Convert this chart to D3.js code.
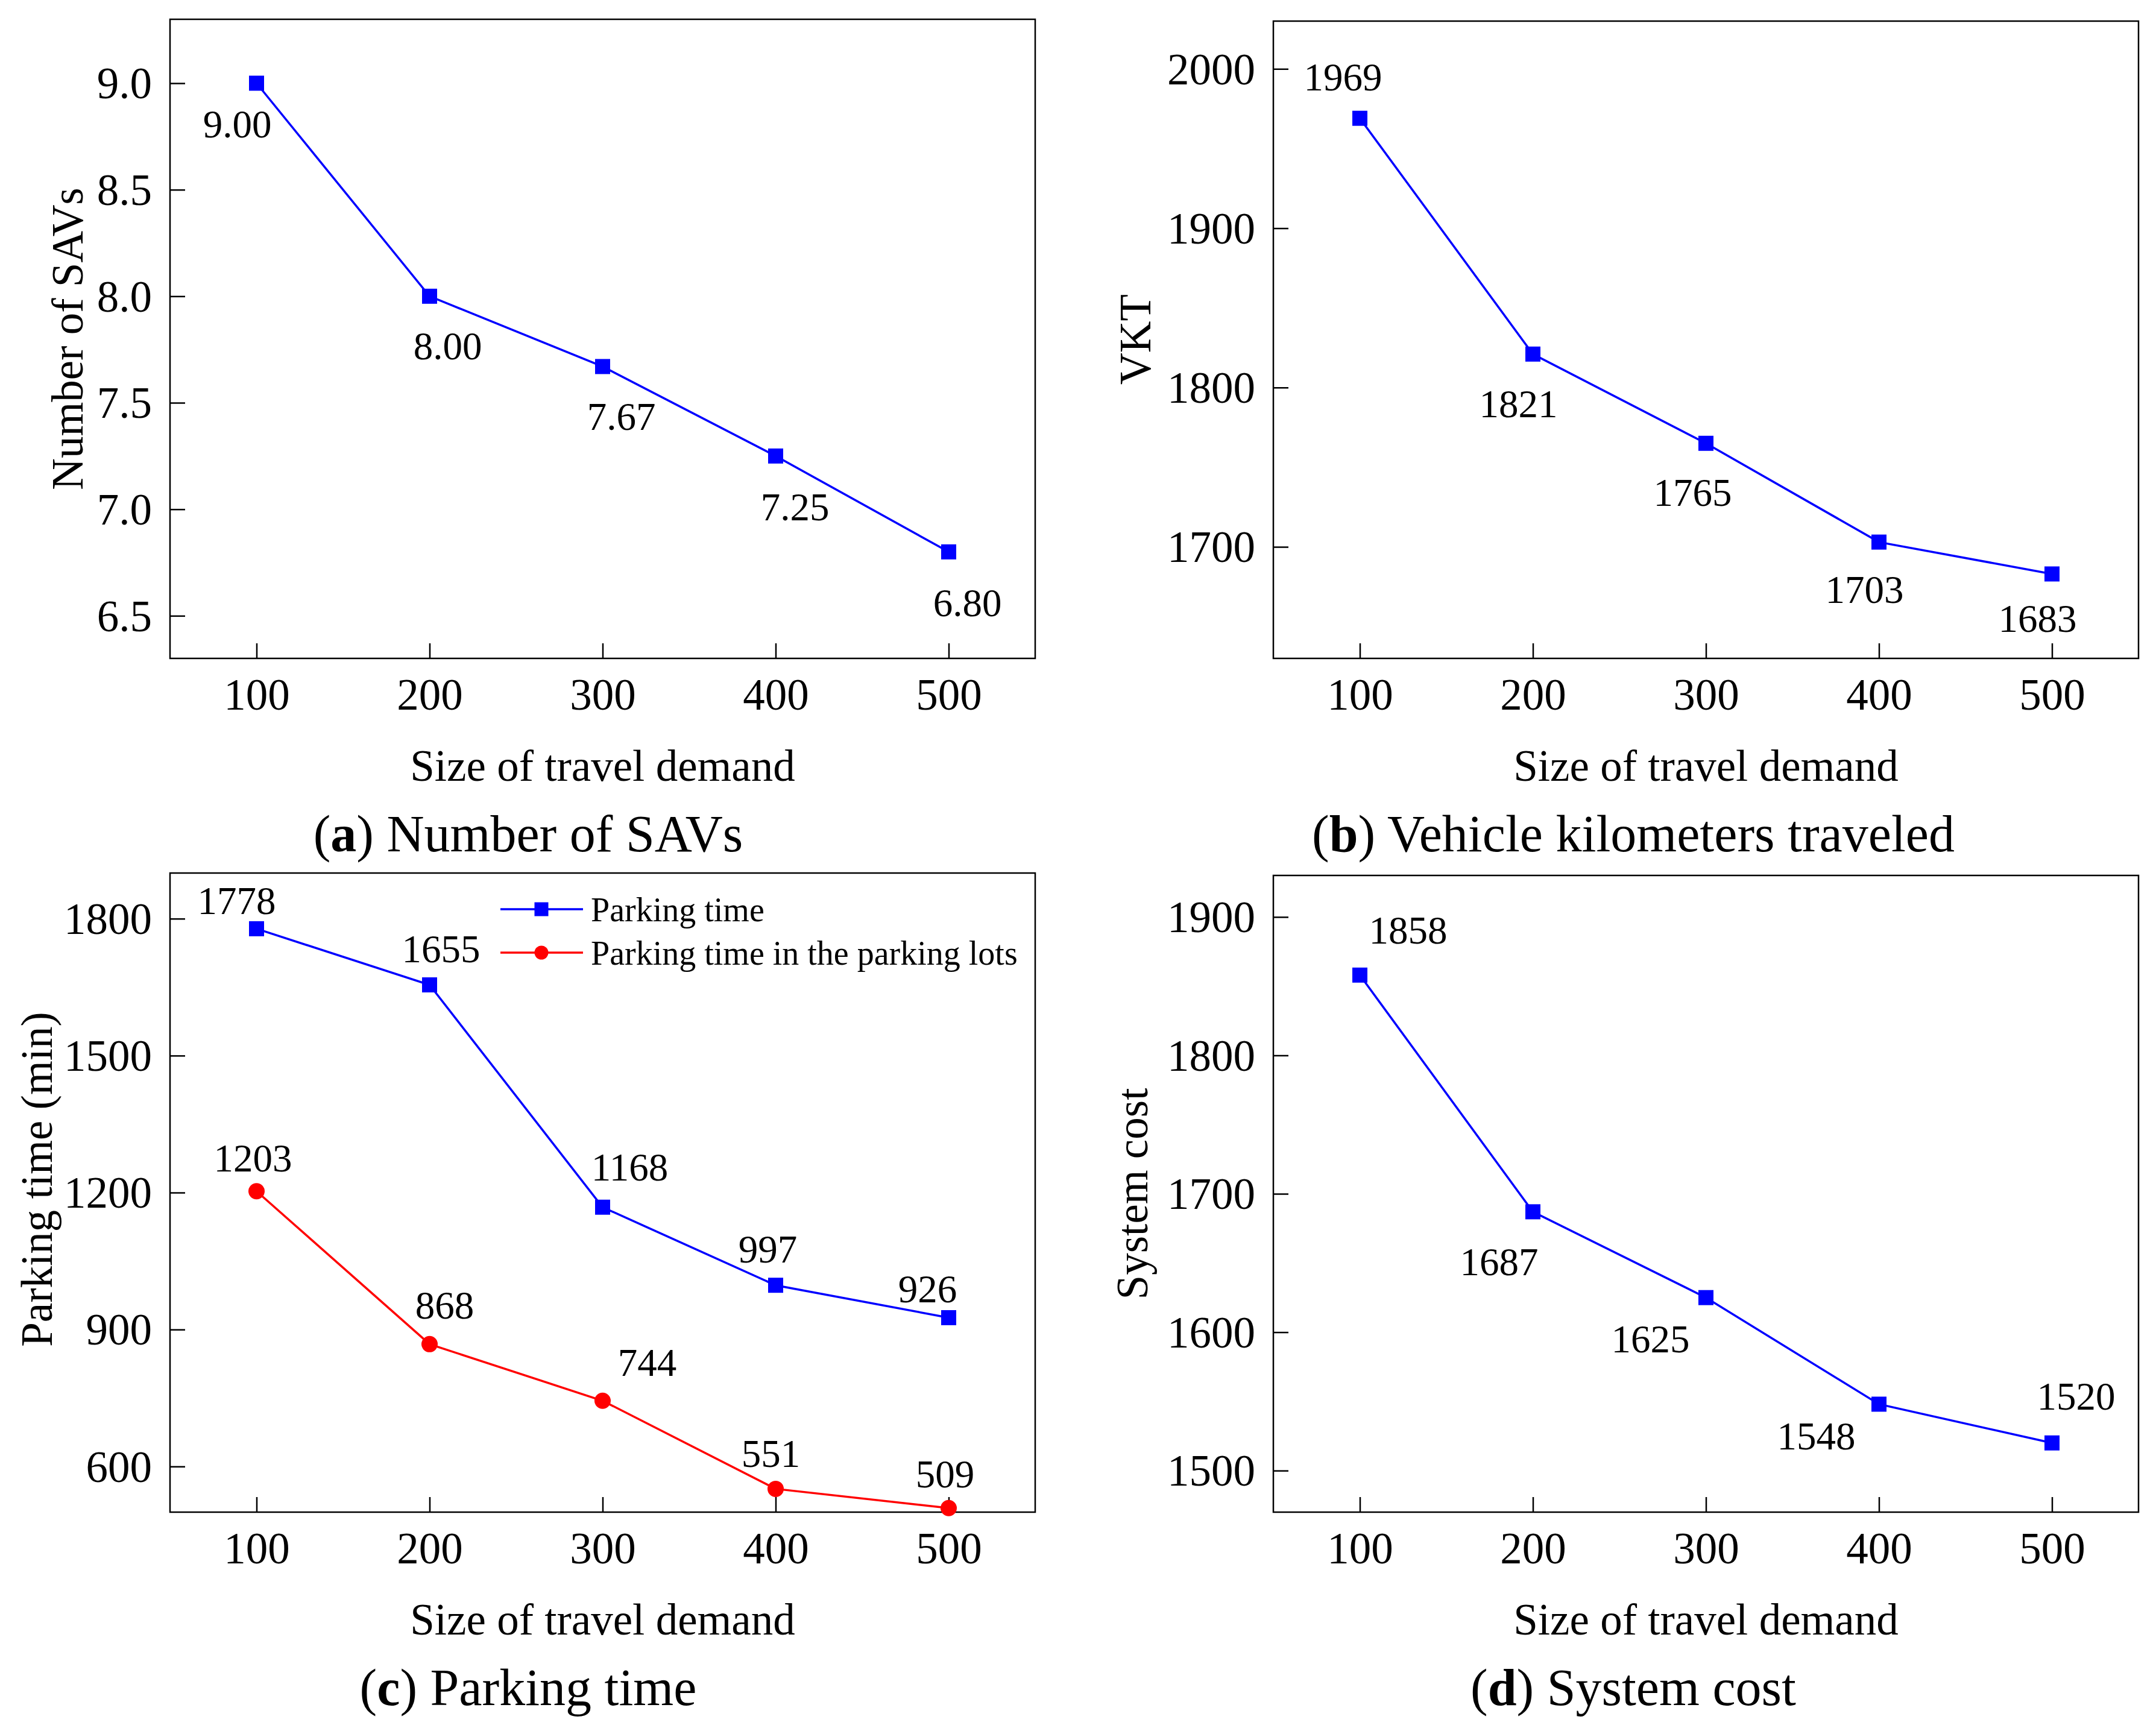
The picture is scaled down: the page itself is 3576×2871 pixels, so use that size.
<!DOCTYPE html>
<html>
<head>
<meta charset="utf-8">
<script src="https://cdn.jsdelivr.net/npm/d3@7"></script>
<style>
  body { margin: 0; background: #fff; }
  text { font-family: "Liberation Serif", "Times New Roman", serif; fill: #000; }
</style>
</head>
<body>
<div id="chart"></div>
<script>
// data
const demandSizes = [100, 200, 300, 400, 500];
const savCounts = [9.00, 8.00, 7.67, 7.25, 6.80];
const vktValues = [1969, 1821, 1765, 1703, 1683];
const parkingTime = [1778, 1655, 1168, 997, 926];
const parkingLotTime = [1203, 868, 744, 551, 509];
const systemCost = [1858, 1687, 1625, 1548, 1520];

const savTicks = [6.5, 7.0, 7.5, 8.0, 8.5, 9.0];
const vktTicks = [1700, 1800, 1900, 2000];
const parkingTicks = [600, 900, 1200, 1500, 1800];
const costTicks = [1500, 1600, 1700, 1800, 1900];

const xTitle = "Size of travel demand";
const yTitles = ["Number of SAVs", "VKT", "Parking time (min)", "System cost"];
const captionLetters = ["a", "b", "c", "d"];
const captionTexts = ["Number of SAVs", "Vehicle kilometers traveled", "Parking time", "System cost"];
const legendNames = ["Parking time", "Parking time in the parking lots"];

// label placement (dx to text centre, dy to baseline) per point
const offsetsA = [[-32, 90], [30, 105], [31, 105], [32, 107], [31, 107]];
const offsetsB = [[-28, -46], [-24, 105], [-22, 104], [-24, 101], [-24, 96]];
const offsetsC1 = [[-33, -24], [19, -38], [45, -44], [-13, -38], [-35, -25]];
const offsetsC2 = [[-6, -33], [25, -42], [74, -41], [-8, -36], [-6, -34]];
const offsetsD = [[80, -52], [-56, 105], [-92, 91], [-104, 75], [40, -55]];

const W = 3576, H = 2871;
const BLUE = "#0000ff", RED = "#ff0000";

const svg = d3.select("#chart").append("svg")
    .attr("width", W)
    .attr("height", H);

const panels = [
    {left: 282, right: 1717, top: 32, bottom: 1092, yDomain: [6.3, 9.3], ticks: savTicks,
        tickFmt: d3.format(".1f"), labelFmt: d3.format(".2f"), yTitleX: 137, yTitleY: 562, capX: 876,
        series: [{values: savCounts, color: BLUE, shape: "square", offsets: offsetsA}]},
    {left: 2112, right: 3547, top: 35, bottom: 1092, yDomain: [1630, 2030], ticks: vktTicks,
        tickFmt: d3.format("d"), labelFmt: d3.format("d"), yTitleX: 1908, yTitleY: 563, capX: 2709,
        series: [{values: vktValues, color: BLUE, shape: "square", offsets: offsetsB}]},
    {left: 282, right: 1717, top: 1448, bottom: 2508, yDomain: [500, 1900], ticks: parkingTicks,
        tickFmt: d3.format("d"), labelFmt: d3.format("d"), yTitleX: 86, yTitleY: 1956, capX: 876,
        series: [{values: parkingTime, color: BLUE, shape: "square", offsets: offsetsC1},
                 {values: parkingLotTime, color: RED, shape: "circle", offsets: offsetsC2}],
        legend: true},
    {left: 2112, right: 3547, top: 1452, bottom: 2508, yDomain: [1470, 1930], ticks: costTicks,
        tickFmt: d3.format("d"), labelFmt: d3.format("d"), yTitleX: 1903, yTitleY: 1980, capX: 2709,
        series: [{values: systemCost, color: BLUE, shape: "square", offsets: offsetsD}]}
];

function drawMarker(g, shape, cx, cy, size, color) {
    if (shape === "square") {
        g.append("rect")
            .attr("x", cx - size / 2)
            .attr("y", cy - size / 2)
            .attr("width", size)
            .attr("height", size)
            .attr("fill", color);
    } else {
        g.append("circle")
            .attr("cx", cx)
            .attr("cy", cy)
            .attr("r", size / 2)
            .attr("fill", color);
    }
}

panels.forEach(function (p, i) {
    var g = svg.append("g");
    var x = d3.scaleLinear().domain([50, 550]).range([p.left, p.right]);
    var y = d3.scaleLinear().domain(p.yDomain).range([p.bottom, p.top]);

    // bottom axis, ticks pointing inward
    var xAxis = g.append("g")
        .attr("transform", "translate(0," + p.bottom + ")")
        .call(d3.axisBottom(x).tickValues(demandSizes).tickFormat(d3.format("d"))
            .tickSizeInner(-25).tickSizeOuter(0));
    xAxis.select(".domain").remove();
    xAxis.selectAll("line").attr("stroke", "#000").attr("stroke-width", 2.5);
    xAxis.selectAll("text")
        .attr("y", 85)
        .attr("dy", null)
        .attr("font-size", 73)
        .attr("font-family", null);

    var yAxis = g.append("g")
        .attr("transform", "translate(" + p.left + ",0)")
        .call(d3.axisLeft(y).tickValues(p.ticks).tickFormat(p.tickFmt)
            .tickSizeInner(-25).tickSizeOuter(0).tickPadding(30));
    yAxis.select(".domain").remove();
    yAxis.selectAll("line").attr("stroke", "#000").attr("stroke-width", 2.5);
    yAxis.selectAll("text")
        .attr("dy", "0.34em")
        .attr("font-size", 73)
        .attr("font-family", null);

    // frame
    g.append("rect")
        .attr("x", p.left)
        .attr("y", p.top)
        .attr("width", p.right - p.left)
        .attr("height", p.bottom - p.top)
        .attr("fill", "none")
        .attr("stroke", "#000")
        .attr("stroke-width", 2.5);

    p.series.forEach(function (s) {
        var line = d3.line()
            .x(function (d, j) { return x(demandSizes[j]); })
            .y(function (d) { return y(d); });
        g.append("path")
            .datum(s.values)
            .attr("d", line)
            .attr("fill", "none")
            .attr("stroke", s.color)
            .attr("stroke-width", 3.5);

        s.values.forEach(function (v, j) {
            drawMarker(g, s.shape, x(demandSizes[j]), y(v), s.shape === "square" ? 25 : 27, s.color);
            g.append("text")
                .attr("x", x(demandSizes[j]) + s.offsets[j][0])
                .attr("y", y(v) + s.offsets[j][1])
                .attr("text-anchor", "middle")
                .attr("font-size", 65)
                .text(p.labelFmt(v));
        });
    });

    if (p.legend) {
        var rowY = [1508, 1580];
        p.series.forEach(function (s, k) {
            g.append("line")
                .attr("x1", 830).attr("x2", 967)
                .attr("y1", rowY[k]).attr("y2", rowY[k])
                .attr("stroke", s.color)
                .attr("stroke-width", 3.5);
            drawMarker(g, s.shape, 898, rowY[k], 23, s.color);
            g.append("text")
                .attr("x", 980)
                .attr("y", rowY[k] + 20)
                .attr("font-size", 56)
                .text(legendNames[k]);
        });
    }

    // axis titles
    g.append("text")
        .attr("x", (p.left + p.right) / 2)
        .attr("y", p.bottom + 203)
        .attr("text-anchor", "middle")
        .attr("font-size", 73)
        .text(xTitle);

    g.append("text")
        .attr("transform", "translate(" + p.yTitleX + "," + p.yTitleY + ") rotate(-90)")
        .attr("text-anchor", "middle")
        .attr("font-size", 73)
        .text(yTitles[i]);

    // sub-figure caption
    var cap = g.append("text")
        .attr("x", p.capX)
        .attr("y", p.bottom + 320)
        .attr("text-anchor", "middle")
        .attr("font-size", 86);
    cap.append("tspan").text("(");
    cap.append("tspan").attr("font-weight", "bold").text(captionLetters[i]);
    cap.append("tspan").text(") " + captionTexts[i]);
});
</script>
</body>
</html>
